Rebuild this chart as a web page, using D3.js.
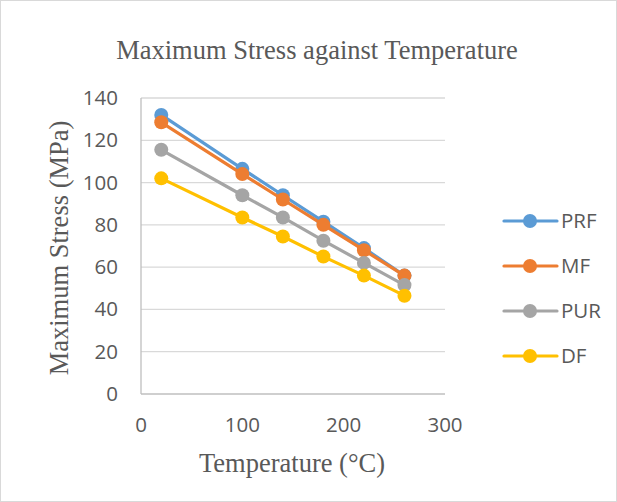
<!DOCTYPE html>
<html>
<head>
<meta charset="utf-8">
<script src="https://cdn.jsdelivr.net/npm/d3@7"></script>
<style>
body { margin: 0; background: #fff; }
</style>
</head>
<body>
<svg id="chart"></svg>
<script>
var temps = [20, 100, 140, 180, 220, 260];
var seriesNames = ["PRF", "MF", "PUR", "DF"];
var prfValues = [132, 106.5, 94, 81.5, 69, 56];
var mfValues = [128.5, 104, 92, 80, 68, 56];
var purValues = [115.5, 94, 83.5, 72.5, 62, 51.5];
var dfValues = [102, 83.5, 74.5, 65, 56, 46.5];
var xTicks = [0, 100, 200, 300];
var yTicks = [0, 20, 40, 60, 80, 100, 120, 140];
var colors = ["#5B9BD5", "#ED7D31", "#A5A5A5", "#FFC000"];

var width = 617, height = 502;
var plotLeft = 141, plotRight = 445, plotTop = 98, plotBottom = 394;

var svg = d3.select("#chart").attr("width", width).attr("height", height);

//Outer chart border
svg.append("rect")
    .attr("x", 0.5).attr("y", 0.5)
    .attr("width", width - 1).attr("height", height - 1)
    .attr("fill", "#fff").attr("stroke", "#d9d9d9");

var x = d3.scaleLinear().domain([0, 300]).range([plotLeft, plotRight]);
var y = d3.scaleLinear().domain([0, 140]).range([plotBottom, plotTop]);

//Gridlines
svg.append("g").selectAll("line").data(yTicks.slice(1)).enter().append("line")
    .attr("x1", plotLeft).attr("x2", plotRight)
    .attr("y1", function(d){ return y(d); }).attr("y2", function(d){ return y(d); })
    .attr("stroke", "#d9d9d9").attr("stroke-width", 1.3);

//Axis lines
svg.append("line").attr("x1", plotLeft).attr("x2", plotRight)
    .attr("y1", plotBottom).attr("y2", plotBottom)
    .attr("stroke", "#bfbfbf").attr("stroke-width", 1.3);
svg.append("line").attr("x1", plotLeft).attr("x2", plotLeft)
    .attr("y1", plotTop).attr("y2", plotBottom)
    .attr("stroke", "#bfbfbf").attr("stroke-width", 1.3);

//Tick labels
var tickFont = "'Open Sans', 'Liberation Sans', sans-serif";
svg.append("g").selectAll("text").data(yTicks).enter().append("text")
    .attr("x", plotLeft - 23).attr("y", function(d){ return y(d) + 7; })
    .attr("text-anchor", "end")
    .attr("font-family", tickFont).attr("font-size", 20.5).attr("fill", "#595959")
    .text(function(d){ return d; });
svg.append("g").selectAll("text").data(xTicks).enter().append("text")
    .attr("x", function(d){ return x(d); }).attr("y", plotBottom + 38)
    .attr("text-anchor", "middle")
    .attr("font-family", tickFont).attr("font-size", 20.5).attr("fill", "#595959")
    .text(function(d){ return d; });

//Titles
var serif = "'Liberation Serif', 'DejaVu Serif', serif";
svg.append("text").attr("x", 317).attr("y", 59).attr("text-anchor", "middle")
    .attr("font-family", serif).attr("font-size", 26.5).attr("fill", "#595959")
    .text("Maximum Stress against Temperature");
svg.append("text").attr("x", 292).attr("y", 472).attr("text-anchor", "middle")
    .attr("font-family", serif).attr("font-size", 26.5).attr("fill", "#595959")
    .text("Temperature (°C)");
svg.append("text").attr("transform", "translate(68,248) rotate(-90)").attr("text-anchor", "middle")
    .attr("font-family", serif).attr("font-size", 26.5).attr("fill", "#595959")
    .text("Maximum Stress (MPa)");

//Series
var allValues = [prfValues, mfValues, purValues, dfValues];
var line = d3.line()
    .x(function(d, i){ return x(temps[i]); })
    .y(function(d){ return y(d); });

allValues.forEach(function(vals, s){
    var g = svg.append("g");
    g.append("path").datum(vals)
        .attr("d", line).attr("fill", "none")
        .attr("stroke", colors[s]).attr("stroke-width", 3.2)
        .attr("stroke-linecap", "round").attr("stroke-linejoin", "round");
    g.selectAll("circle").data(vals).enter().append("circle")
        .attr("cx", function(d, i){ return x(temps[i]); })
        .attr("cy", function(d){ return y(d); })
        .attr("r", 7).attr("fill", colors[s]);
});

//Legend
var legendY = [221, 266, 311, 356];
seriesNames.forEach(function(name, s){
    var lg = svg.append("g");
    lg.append("line").attr("x1", 504).attr("x2", 557)
        .attr("y1", legendY[s]).attr("y2", legendY[s])
        .attr("stroke", colors[s]).attr("stroke-width", 3.2).attr("stroke-linecap", "round");
    lg.append("circle").attr("cx", 530).attr("cy", legendY[s]).attr("r", 7).attr("fill", colors[s]);
    lg.append("text").attr("x", 561).attr("y", legendY[s] + 7)
        .attr("font-family", tickFont).attr("font-size", 20.5).attr("fill", "#595959")
        .text(name);
});
</script>
</body>
</html>
